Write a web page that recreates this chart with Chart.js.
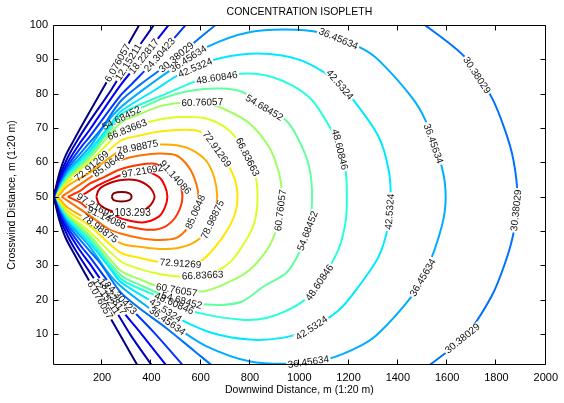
<!DOCTYPE html>
<html>
<head>
<meta charset="utf-8">
<script src="https://cdn.jsdelivr.net/npm/chart.js@4.4.1/dist/chart.umd.min.js"></script>
<style>
  html, body { margin: 0; padding: 0; background: #fff; }
  #wrap { width: 564px; height: 403px; }
</style>
</head>
<body>
<div id="wrap"><canvas id="chart"></canvas></div>
<script>
// contour levels (the last one is the small unlabelled ring at the peak)
const levels = [6.076057, 12.15211, 18.22817, 24.30423, 30.38029, 36.45634, 42.5324, 48.60846, 54.68452,
                60.76057, 66.83663, 72.91269, 78.98875, 85.0648, 91.14086, 97.21692, 103.293, 109.3690];

// plume centre line
const centerY = 50;

// each isopleth: downwind distance x and its half width above the centre line
const c01X = [4, 12, 28, 53, 85, 121, 202, 275, 350, 358];
const c01W = [0, 2.5, 7.1, 12.1, 16.4, 21.1, 31.3, 40.5, 49.9, 51.0];
const c02X = [4, 12, 28, 61, 97, 150, 239, 316, 409, 417];
const c02W = [0, 2.0, 6.0, 11.5, 16.1, 22.0, 31.3, 40.3, 49.9, 51.0];
const c03X = [4, 12, 28, 61, 109, 150, 275, 360, 469, 481];
const c03W = [0, 1.8, 5.2, 10.0, 15.5, 19.5, 32.5, 40.0, 49.9, 51.0];
const c04X = [4, 12, 28, 61, 121, 150, 275, 316, 413, 538, 550];
const c04W = [0, 1.6, 4.6, 9.0, 15.0, 17.5, 29.5, 32.5, 39.7, 49.9, 51.0];
const c05X = [6, 12, 28, 61, 150, 194, 275, 352, 465, 574, 659, 680];
const c05W = [0, 1.4, 4.1, 8.2, 15.8, 19.5, 27.8, 32.5, 38.5, 44.9, 49.9, 51.0];
const c05farX = [1485, 1512, 1673, 1780, 1835, 1869, 1885];
const c05farW = [51.0, 49.9, 40.6, 29.0, 19.3, 10.6, 0];
const c06X = [6, 12, 28, 61, 150, 218, 275, 392, 493, 622, 797, 986, 1120, 1254, 1323, 1456, 1512, 1578, 1594];
const c06W = [0, 1.3, 3.7, 7.5, 14.5, 21.5, 26.0, 32.5, 37.6, 43.5, 47.9, 48.6, 47.2, 43.2, 39.7, 29.0, 22.2, 8.7, 0];
const c07X = [6, 12, 28, 61, 150, 239, 275, 413, 514, 647, 797, 930, 1040, 1161, 1230, 1323, 1363, 1371];
const c07W = [0, 1.2, 3.3, 7.0, 13.5, 21.5, 24.8, 31.0, 35.6, 39.7, 41.6, 41.1, 38.7, 33.0, 27.2, 17.3, 7.7, 0];
const c08X = [6, 12, 28, 61, 150, 275, 344, 433, 514, 595, 765, 866, 971, 1052, 1108, 1161, 1189, 1193];
const c08W = [0, 1.1, 3.0, 6.5, 12.7, 23.8, 26.5, 29.2, 31.7, 33.9, 35.8, 35.3, 32.4, 28.1, 22.2, 15.0, 6.8, 0];
const c09X = [8, 12, 28, 61, 150, 275, 364, 453, 554, 676, 769, 858, 947, 999, 1040, 1052];
const c09W = [0, 1.0, 2.7, 6.0, 12.0, 22.8, 26.0, 28.8, 30.8, 31.5, 30.5, 26.0, 22.2, 16.4, 8.7, 0];
const c10X = [8, 12, 28, 61, 150, 275, 352, 433, 514, 615, 708, 797, 878, 918, 930];
const c10W = [0, 0.9, 2.4, 5.5, 11.2, 21.5, 24.0, 26.3, 27.3, 27.5, 25.1, 21.4, 14.4, 6.8, 0];
const c11X = [8, 12, 28, 61, 150, 275, 352, 433, 514, 623, 716, 777, 817, 831];
const c11W = [0, 0.8, 2.0, 5.0, 10.2, 18.8, 21.0, 22.5, 23.2, 22.8, 19.3, 13.5, 7.7, 0];
const c12X = [12, 28, 61, 150, 275, 352, 433, 534, 595, 655, 708, 740, 750];
const c12W = [0, 1.3, 4.2, 8.5, 16.3, 17.8, 19.0, 19.5, 19.0, 15.0, 9.7, 4.8, 0];
const c13X = [20, 28, 61, 150, 275, 352, 433, 502, 566, 623, 655, 667];
const c13W = [0, 0.7, 3.2, 7.0, 13.5, 14.6, 15.2, 15.0, 13.6, 10.4, 5.6, 0];
const c14X = [36, 61, 150, 227, 275, 352, 433, 502, 554, 582, 591];
const c14W = [0, 1.2, 5.5, 9.4, 10.7, 12.0, 12.6, 12.0, 8.4, 3.8, 0];
const c15X = [61, 109, 150, 210, 275, 352, 413, 465, 506, 526];
const c15W = [0, 1.6, 3.8, 5.8, 8.0, 9.3, 9.6, 8.3, 5.0, 0];
const c16X = [110, 150, 190, 240, 291, 364, 430, 455, 465];
const c16W = [0, 1.8, 3.5, 5.2, 6.6, 7.5, 5.8, 3.1, 0];
const c17X = [177, 186, 210, 271, 340, 392, 413];
const c17W = [0, 1.9, 3.3, 4.8, 4.8, 2.8, 0];
const c18X = [239, 247, 279, 311, 320];
const c18W = [0, 1.0, 1.4, 1.0, 0];

const xTicks = [200, 400, 600, 800, 1000, 1200, 1400, 1600, 1800, 2000];
const yTicks = [10, 20, 30, 40, 50, 60, 70, 80, 90, 100];

// inline contour labels: contour number, rough x, rough y
const labelSpots = [
  [1, 247, 89.6], [2, 311, 89], [3, 352, 91.9], [4, 413, 92.6], [5, 473, 93.1],
  [6, 546, 90.5], [7, 570, 88.8], [8, 667, 84.2], [9, 279, 72.8], [10, 607, 76.3],
  [11, 303, 69.3], [12, 158, 58.9], [13, 352, 61.8], [14, 227, 59.4], [16, 364, 58.3],
  [12, 659, 63.5], [15, 498, 55.7],
  [6, 1161, 96.4], [7, 1161, 82.4], [8, 1149, 63.5], [9, 854, 75.4], [11, 785, 61.4],
  [5, 1723, 85.5], [6, 1545, 65.5], [5, 1885, 46], [7, 1351, 45.7], [10, 926, 46],
  [13, 639, 43.7], [14, 580, 45.5],
  [5, 1659, 9], [6, 1505, 26.3], [6, 1036, 2.4], [7, 1048, 12], [8, 1068, 25.7], [9, 1027, 40.2],
  [8, 485, 17.6], [9, 526, 20.5], [10, 506, 24.3], [11, 607, 28.3], [12, 518, 30.6],
  [7, 445, 15.5], [6, 453, 12.6],
  [1, 194, 20], [2, 218, 21], [3, 243, 21], [4, 275, 20.5],
  [13, 174, 39], [15, 210, 42.5], [16, 162, 46], [17, 324, 43.7]
];

const family = '"Liberation Sans", Arial, Helvetica, sans-serif';

// MATLAB jet colour map
function jet(t) {
  const c = v => Math.round(255 * Math.min(1, Math.max(0, v)));
  return `rgb(${c(1.5 - Math.abs(4 * t - 3))},${c(1.5 - Math.abs(4 * t - 2))},${c(1.5 - Math.abs(4 * t - 1))})`;
}

const upper = (xs, ws) => xs.map((x, i) => ({x: x, y: centerY + ws[i]}));
const lower = (xs, ws) => xs.map((x, i) => ({x: x, y: centerY - ws[i]}));
// closed ring: along the top from left to right, back along the bottom
const ring = (xs, ws) => upper(xs, ws).concat(lower(xs, ws).reverse().slice(1));
// open branch through the source: bottom part inwards, top part outwards
const branch = (xs, ws) => lower(xs, ws).reverse().concat(upper(xs, ws).slice(1));

const paths = [
  branch(c01X, c01W), branch(c02X, c02W), branch(c03X, c03W), branch(c04X, c04W),
  branch(c05X, c05W).concat([{x: null, y: null}], ring(c05farX, c05farW)),
  ring(c06X, c06W), ring(c07X, c07W), ring(c08X, c08W), ring(c09X, c09W), ring(c10X, c10W),
  ring(c11X, c11W), ring(c12X, c12W), ring(c13X, c13W), ring(c14X, c14W), ring(c15X, c15W),
  ring(c16X, c16W), ring(c17X, c17W), ring(c18X, c18W)
];

// colours spread over the level range, like MATLAB contour lines
const datasets = paths.map((pts, i) => ({
  data: pts,
  showLine: true,
  borderColor: jet(i / (paths.length - 1)),
  borderWidth: 2,
  pointRadius: 0,
  tension: 0.3,
  spanGaps: false
}));

const labelFont = '10px ' + family;

function placeLabels(chart) {
  const xs = chart.scales.x, ys = chart.scales.y, ctx = chart.ctx;
  ctx.save();
  ctx.font = labelFont;
  const out = [];
  labelSpots.forEach(([c, lx, ly]) => {
    const pts = chart.getDatasetMeta(c - 1).data;
    const tx = xs.getPixelForValue(lx), ty = ys.getPixelForValue(ly);
    let best = null;
    for (let i = 1; i < pts.length; i++) {
      const a = pts[i - 1], b = pts[i];
      if (a.skip || b.skip) continue;
      const dx = b.x - a.x, dy = b.y - a.y, len2 = dx * dx + dy * dy;
      if (!len2) continue;
      let t = ((tx - a.x) * dx + (ty - a.y) * dy) / len2;
      t = Math.max(0, Math.min(1, t));
      const px = a.x + t * dx, py = a.y + t * dy;
      const d = (px - tx) ** 2 + (py - ty) ** 2;
      if (!best || d < best.d) best = {d: d, x: px, y: py, ang: Math.atan2(dy, dx)};
    }
    if (!best) return;
    let ang = best.ang;
    if (ang > Math.PI / 2) ang -= Math.PI;
    if (ang < -Math.PI / 2) ang += Math.PI;
    const text = String(levels[c - 1]);
    out.push({ds: c - 1, x: best.x, y: best.y, ang: ang, text: text, w: ctx.measureText(text).width + 3, h: 8});
  });
  ctx.restore();
  return out;
}

const isoLabels = {
  id: 'isoLabels',
  beforeDatasetsDraw(chart) {
    chart.$iso = placeLabels(chart);
  },
  beforeDatasetDraw(chart, args) {
    const boxes = (chart.$iso || []).filter(b => b.ds === args.index);
    if (!boxes.length) return;
    const ctx = chart.ctx, a = chart.chartArea;
    ctx.save();
    ctx.beginPath();
    ctx.rect(a.left - 3, a.top - 3, a.right - a.left + 6, a.bottom - a.top + 6);
    boxes.forEach(b => {
      const c = Math.cos(b.ang), s = Math.sin(b.ang), hw = b.w / 2, hh = b.h / 2;
      const pt = (u, v) => [b.x + u * c - v * s, b.y + u * s + v * c];
      const p = [pt(-hw, -hh), pt(hw, -hh), pt(hw, hh), pt(-hw, hh)];
      ctx.moveTo(p[0][0], p[0][1]);
      for (let k = 1; k < 4; k++) ctx.lineTo(p[k][0], p[k][1]);
      ctx.closePath();
    });
    ctx.clip('evenodd');
    chart.$isoClipped = true;
  },
  afterDatasetDraw(chart) {
    if (chart.$isoClipped) {
      chart.ctx.restore();
      chart.$isoClipped = false;
    }
  },
  afterDatasetsDraw(chart) {
    const ctx = chart.ctx;
    ctx.save();
    ctx.font = labelFont;
    ctx.fillStyle = '#111';
    ctx.textAlign = 'center';
    ctx.textBaseline = 'middle';
    (chart.$iso || []).forEach(b => {
      ctx.save();
      ctx.translate(b.x, b.y);
      ctx.rotate(b.ang);
      ctx.fillText(b.text, 0, 0.5);
      ctx.restore();
    });
    ctx.restore();
  }
};

// MATLAB style box with inward ticks on all four sides, plus the title
const axesBox = {
  id: 'axesBox',
  afterDraw(chart) {
    const ctx = chart.ctx, a = chart.chartArea, xs = chart.scales.x, ys = chart.scales.y;
    const L = Math.round(a.left) + 0.5, R = Math.round(a.right) - 0.5;
    const T = Math.round(a.top) + 0.5, B = Math.round(a.bottom) - 0.5;
    ctx.save();
    ctx.strokeStyle = '#000';
    ctx.lineWidth = 1;
    ctx.beginPath();
    ctx.rect(L, T, R - L, B - T);
    xTicks.forEach(v => {
      const p = Math.round(xs.getPixelForValue(v)) - 0.5;
      ctx.moveTo(p, B); ctx.lineTo(p, B - 5);
      ctx.moveTo(p, T); ctx.lineTo(p, T + 5);
    });
    yTicks.forEach(v => {
      const p = Math.round(ys.getPixelForValue(v)) + 0.5;
      ctx.moveTo(L, p); ctx.lineTo(L + 5, p);
      ctx.moveTo(R, p); ctx.lineTo(R - 5, p);
    });
    ctx.stroke();
    ctx.fillStyle = '#000';
    ctx.font = '10.5px ' + family;
    ctx.textAlign = 'center';
    ctx.textBaseline = 'middle';
    ctx.fillText('CONCENTRATION ISOPLETH', (a.left + a.right) / 2, 12);
    ctx.restore();
  }
};

new Chart(document.getElementById('chart'), {
  type: 'scatter',
  data: { datasets: datasets },
  options: {
    responsive: true,
    maintainAspectRatio: false,
    animation: false,
    devicePixelRatio: 1,
    layout: { padding: { top: 25, right: 17, left: 0, bottom: 0 } },
    plugins: { legend: { display: false }, tooltip: { enabled: false } },
    scales: {
      x: {
        type: 'linear', min: 1, max: 2000,
        grid: { display: false, drawTicks: false },
        border: { display: false },
        afterBuildTicks: s => { s.ticks = xTicks.map(v => ({ value: v })); },
        afterFit: s => { s.height = 38; },
        ticks: { color: '#000', font: { family: family, size: 11 }, padding: 6, maxRotation: 0, autoSkip: false,
                 callback: v => String(v) },
        title: { display: true, text: 'Downwind Distance, m (1:20 m)', color: '#000',
                 font: { family: family, size: 10.5 }, padding: { top: 0, bottom: 7 } }
      },
      y: {
        type: 'linear', min: 1, max: 100,
        grid: { display: false, drawTicks: false },
        border: { display: false },
        afterBuildTicks: s => { s.ticks = yTicks.map(v => ({ value: v })); },
        afterFit: s => { s.width = 53; },
        ticks: { color: '#000', font: { family: family, size: 11 }, padding: 5, autoSkip: false,
                 callback: v => String(v) },
        title: { display: true, text: 'Crosswind Distance, m (1:20 m)', color: '#000',
                 font: { family: family, size: 10.5 }, padding: { top: 6, bottom: 0 } }
      }
    }
  },
  plugins: [isoLabels, axesBox]
});
</script>
</body>
</html>
